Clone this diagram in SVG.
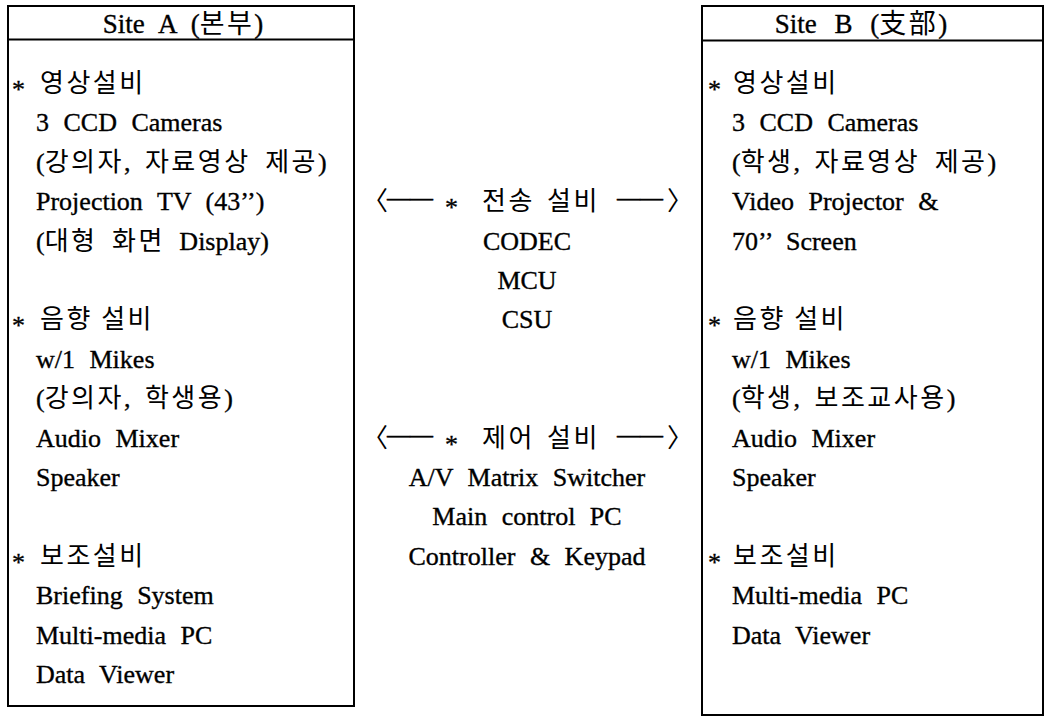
<svg xmlns="http://www.w3.org/2000/svg" width="1045" height="717" viewBox="0 0 1045 717">
<style>
.box{fill:none;stroke:#000;stroke-width:2}
.t{font-family:"Liberation Serif","Noto Sans CJK KR",serif;font-size:26px;fill:#000;stroke:#000;stroke-width:0.35px;word-spacing:8px}
.k{font-family:"Noto Sans CJK KR","Liberation Serif",sans-serif;font-size:26px;fill:#000;letter-spacing:2.5px}
.kr{font-family:"Noto Sans CJK KR","Liberation Serif",sans-serif;letter-spacing:2.5px;stroke:none}
.c{text-anchor:middle}
.h{text-anchor:middle;font-size:27px}
</style>
<rect width="1045" height="717" fill="#fff"/>
<g id="siteA">
<rect class="box" x="8" y="6" width="346" height="700"/>
<line class="box" x1="8" y1="39.5" x2="354" y2="39.5"/>
<text class="t h" x="183" y="33">Site A (<tspan class="kr">본부</tspan>)</text>
<text class="t" x="12" y="98">*</text><text class="k" x="40" y="92">영상설비</text>
<text class="t" x="36" y="131.4">3 CCD Cameras</text>
<text class="t" x="36" y="170.8">(<tspan class="kr">강의자</tspan>, <tspan class="kr">자료영상</tspan> <tspan class="kr">제공</tspan>)</text>
<text class="t" x="36" y="210.2">Projection TV (43’’)</text>
<text class="t" x="36" y="249.6">(<tspan class="kr">대형</tspan> <tspan class="kr">화면</tspan> Display)</text>
<text class="t" x="12" y="334.4">*</text><text class="k" x="40" y="328.4">음향 설비</text>
<text class="t" x="36" y="367.8">w/1 Mikes</text>
<text class="t" x="36" y="407.2">(<tspan class="kr">강의자</tspan>, <tspan class="kr">학생용</tspan>)</text>
<text class="t" x="36" y="446.6">Audio Mixer</text>
<text class="t" x="36" y="486">Speaker</text>
<text class="t" x="12" y="570.8">*</text><text class="k" x="40" y="564.8">보조설비</text>
<text class="t" x="36" y="604.2">Briefing System</text>
<text class="t" x="36" y="643.6">Multi-media PC</text>
<text class="t" x="36" y="683">Data Viewer</text>
</g>
<g id="siteB">
<rect class="box" x="702" y="6" width="341" height="709"/>
<line class="box" x1="702" y1="40.5" x2="1043" y2="40.5"/>
<text class="t h" x="861" y="33" style="word-spacing:11px">Site B (<tspan class="kr">支部</tspan>)</text>
<text class="t" x="708" y="98">*</text><text class="k" x="733" y="92">영상설비</text>
<text class="t" x="732" y="131.4">3 CCD Cameras</text>
<text class="t" x="732" y="170.8">(<tspan class="kr">학생</tspan>, <tspan class="kr">자료영상</tspan> <tspan class="kr">제공</tspan>)</text>
<text class="t" x="732" y="210.2">Video Projector &amp;</text>
<text class="t" x="732" y="249.6">70’’ Screen</text>
<text class="t" x="708" y="334.4">*</text><text class="k" x="733" y="328.4">음향 설비</text>
<text class="t" x="732" y="367.8">w/1 Mikes</text>
<text class="t" x="732" y="407.2">(<tspan class="kr">학생</tspan>, <tspan class="kr">보조교사용</tspan>)</text>
<text class="t" x="732" y="446.6">Audio Mixer</text>
<text class="t" x="732" y="486">Speaker</text>
<text class="t" x="708" y="570.8">*</text><text class="k" x="733" y="564.8">보조설비</text>
<text class="t" x="732" y="604.2">Multi-media PC</text>
<text class="t" x="732" y="643.6">Data Viewer</text>
</g>
<g id="connectors">
<text class="k" x="362" y="210.2">〈</text>
<text class="t" x="387" y="206.2" textLength="46" lengthAdjust="spacingAndGlyphs">——</text>
<text class="t" x="445" y="216.2">*</text>
<text class="k" x="482" y="210.2">전송</text>
<text class="k" x="547" y="210.2">설비</text>
<text class="t" x="617" y="206.2" textLength="46" lengthAdjust="spacingAndGlyphs">——</text>
<text class="k" x="667" y="210.2">〉</text>
<text class="k" x="362" y="446.6">〈</text>
<text class="t" x="387" y="442.6" textLength="46" lengthAdjust="spacingAndGlyphs">——</text>
<text class="t" x="445" y="452.6">*</text>
<text class="k" x="482" y="446.6">제어</text>
<text class="k" x="547" y="446.6">설비</text>
<text class="t" x="617" y="442.6" textLength="46" lengthAdjust="spacingAndGlyphs">——</text>
<text class="k" x="667" y="446.6">〉</text>
</g>
<g id="transmission">
<text class="t c" x="527" y="249.6">CODEC</text>
<text class="t c" x="527" y="289">MCU</text>
<text class="t c" x="527" y="328.4">CSU</text>
</g>
<g id="control">
<text class="t c" x="527" y="486">A/V Matrix Switcher</text>
<text class="t c" x="527" y="525.4">Main control PC</text>
<text class="t c" x="527" y="564.8">Controller &amp; Keypad</text>
</g>
</svg>
